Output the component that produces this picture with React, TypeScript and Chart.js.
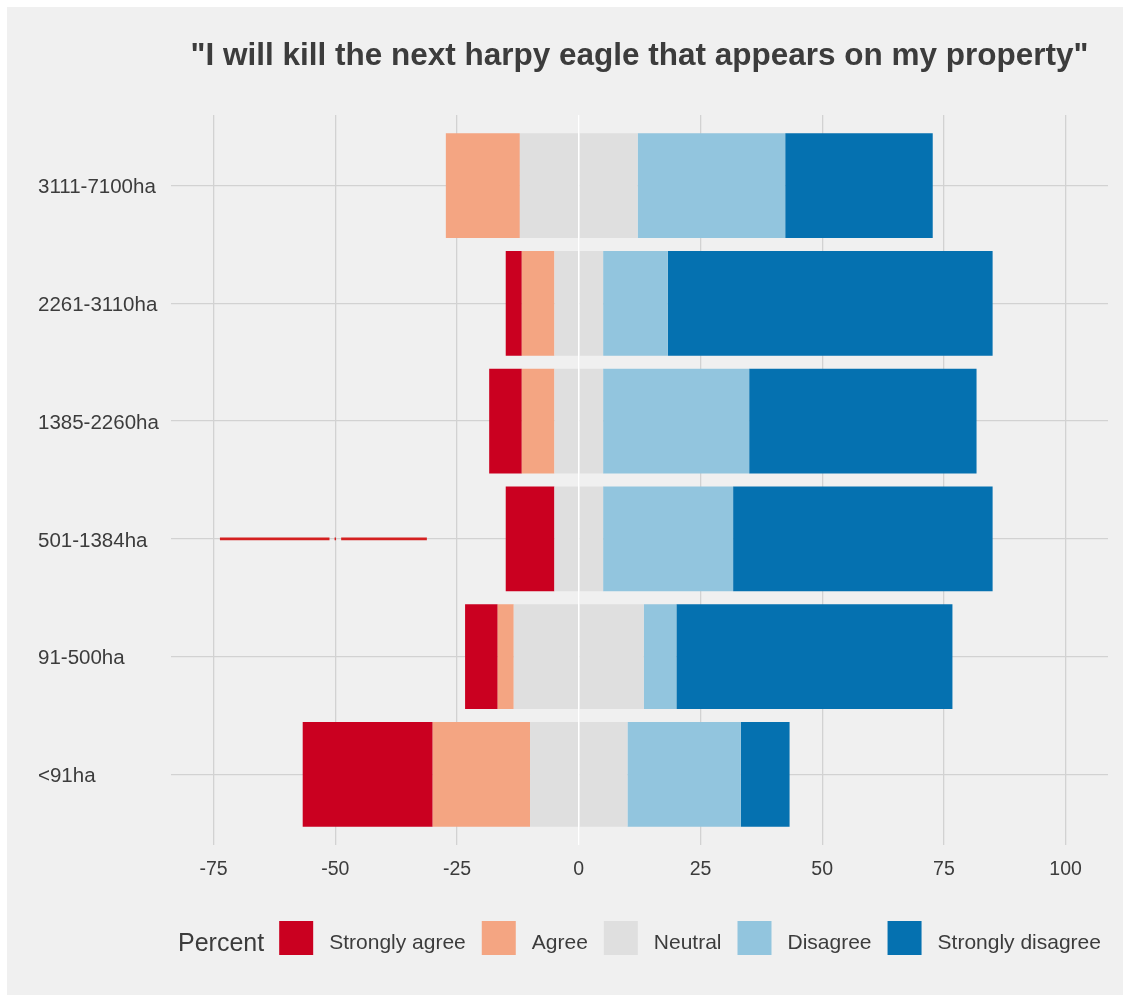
import React, { useEffect, useRef } from "react";
import { Chart, registerables } from "chart.js";

Chart.register(...registerables);

// ---- data ----
const categories = ["3111-7100ha", "2261-3110ha", "1385-2260ha", "501-1384ha", "91-500ha", "<91ha"];
const stronglyAgree = [0, 3.3, 6.7, 10, 6.7, 26.7];
const agree = [15.2, 6.7, 6.7, 0, 3.3, 20];
const neutral = [24.2, 10, 10, 10, 26.7, 20];
const disagree = [30.3, 13.3, 30, 26.7, 6.7, 23.3];
const stronglyDisagree = [30.3, 66.7, 46.7, 53.3, 56.7, 10];
const xTicks = [-75, -50, -25, 0, 25, 50, 75, 100];
const legendTitle = "Percent";
const legendLabels = ["Strongly agree", "Agree", "Neutral", "Disagree", "Strongly disagree"];
const chartTitle = '"I will kill the next harpy eagle that appears on my property"';
const redLineRow = "501-1384ha";
const redLineX: (number | null)[] = [-73.7, -51.2, null, -50.15, -49.85, null, -48.8, -31.2];

// ---- styles ----
const COLORS = {
  sa: "#ca0020",
  a: "#f4a582",
  n: "#dfdfdf",
  d: "#92c5de",
  sd: "#0571b0",
  red: "#d42020",
  grid: "#d2d2d2",
  text: "#3c3c3c",
  bg: "#f0f0f0",
};
const FONT = "'Liberation Sans', Arial, sans-serif";
const legendColors = [COLORS.sa, COLORS.a, COLORS.n, COLORS.d, COLORS.sd];

const rows = (vals: number[]) => vals.map((v, i) => ({ x: v, y: i }));

const overlayPlugin = {
  id: "overlay",
  afterDatasetsDraw(chart: any) {
    const { ctx, chartArea, scales } = chart;
    const x0 = scales.x.getPixelForValue(0);
    ctx.save();
    ctx.strokeStyle = "#ffffff";
    ctx.lineWidth = 1.5;
    ctx.beginPath();
    ctx.moveTo(x0, chartArea.top);
    ctx.lineTo(x0, chartArea.bottom);
    ctx.stroke();
    ctx.restore();
  },
  afterDraw(chart: any) {
    const { ctx, chartArea } = chart;
    const cx = (chartArea.left + chartArea.right) / 2;
    ctx.save();
    // title
    ctx.fillStyle = COLORS.text;
    ctx.font = `bold 31.5px ${FONT}`;
    ctx.textAlign = "center";
    ctx.textBaseline = "alphabetic";
    ctx.fillText(chartTitle, cx, 58);

    // legend
    const sw = 34;
    const gapAfterSwatch = 16;
    const gapAfterText = 16;
    const gapAfterTitle = 15;
    ctx.font = `25px ${FONT}`;
    const titleW = ctx.measureText(legendTitle).width;
    ctx.font = `21px ${FONT}`;
    const widths = legendLabels.map((l) => ctx.measureText(l).width);
    let total = titleW + gapAfterTitle;
    widths.forEach((w, i) => {
      total += sw + gapAfterSwatch + w + (i < widths.length - 1 ? gapAfterText : 0);
    });
    let x = cx - total / 2;
    const top = chartArea.bottom + 76;
    const mid = top + sw / 2;
    ctx.textAlign = "left";
    ctx.font = `25px ${FONT}`;
    ctx.fillStyle = COLORS.text;
    ctx.fillText(legendTitle, x, mid + 12.5);
    x += titleW + gapAfterTitle;
    ctx.font = `21px ${FONT}`;
    legendLabels.forEach((l, i) => {
      ctx.fillStyle = legendColors[i];
      ctx.fillRect(x, top, sw, sw);
      x += sw + gapAfterSwatch;
      ctx.fillStyle = COLORS.text;
      ctx.fillText(l, x, mid + 10.5);
      x += widths[i] + gapAfterText;
    });
    ctx.restore();
  },
};

export default function App() {
  const canvasRef = useRef<HTMLCanvasElement | null>(null);

  useEffect(() => {
    if (!canvasRef.current) return;
    const barCommon = {
      type: "bar" as const,
      indexAxis: "y" as const,
      categoryPercentage: 0.89,
      barPercentage: 1,
      borderWidth: 0,
      borderSkipped: false,
    };
    const redRowIndex = categories.indexOf(redLineRow);
    const chart = new Chart(canvasRef.current, {
      type: "bar",
      data: {
        datasets: [
          { ...barCommon, label: "Neutral", data: rows(neutral.map((v) => -v / 2)), backgroundColor: COLORS.n },
          { ...barCommon, label: "Neutral", data: rows(neutral.map((v) => v / 2)), backgroundColor: COLORS.n },
          { ...barCommon, label: "Agree", data: rows(agree.map((v) => -v)), backgroundColor: COLORS.a },
          { ...barCommon, label: "Disagree", data: rows(disagree), backgroundColor: COLORS.d },
          { ...barCommon, label: "Strongly agree", data: rows(stronglyAgree.map((v) => -v)), backgroundColor: COLORS.sa },
          { ...barCommon, label: "Strongly disagree", data: rows(stronglyDisagree), backgroundColor: COLORS.sd },
          {
            type: "line",
            label: "line",
            data: redLineX.map((x) => ({ x: x as any, y: x === null ? (null as any) : redRowIndex })),
            borderColor: COLORS.red,
            borderWidth: 2.6,
            pointRadius: 0,
            spanGaps: false,
            borderCapStyle: "butt",
            fill: false,
          } as any,
        ] as any,
      },
      options: {
        responsive: false,
        animation: false,
        events: [],
        layout: { padding: { left: 31, right: 15, top: 108, bottom: 110 } },
        plugins: { legend: { display: false }, tooltip: { enabled: false }, title: { display: false } },
        scales: {
          x: {
            type: "linear",
            stacked: true,
            min: -83.75,
            max: 108.7,
            offset: false,
            afterBuildTicks: (s: any) => {
              s.ticks = xTicks.map((v) => ({ value: v }));
            },
            afterFit: (s: any) => {
              s.height = 40;
            },
            grid: { color: COLORS.grid, lineWidth: 1.3, drawTicks: false, offset: false },
            border: { display: false },
            ticks: {
              color: COLORS.text,
              font: { family: FONT, size: 19.5 },
              padding: 13,
              maxRotation: 0,
              autoSkip: false,
            },
          },
          y: {
            type: "linear",
            stacked: true,
            min: -0.6,
            max: 5.6,
            reverse: true,
            offset: false,
            afterBuildTicks: (s: any) => {
              s.ticks = categories.map((_, i) => ({ value: i }));
            },
            afterFit: (s: any) => {
              s.width = 133;
            },
            grid: { color: COLORS.grid, lineWidth: 1.3, drawTicks: false, offset: false },
            border: { display: false },
            ticks: {
              color: COLORS.text,
              font: { family: FONT, size: 20.5 },
              crossAlign: "far",
              labelOffset: 2,
              autoSkip: false,
              callback: (v: any) => categories[Math.round(Number(v))] ?? "",
            },
          },
        },
      } as any,
      plugins: [overlayPlugin],
    });
    return () => chart.destroy();
  }, []);

  return (
    <div
      style={{
        position: "absolute",
        left: 7,
        top: 7,
        width: 1116,
        height: 988,
        background: COLORS.bg,
      }}
    >
      <canvas ref={canvasRef} width={1116} height={988} style={{ display: "block" }} />
    </div>
  );
}
